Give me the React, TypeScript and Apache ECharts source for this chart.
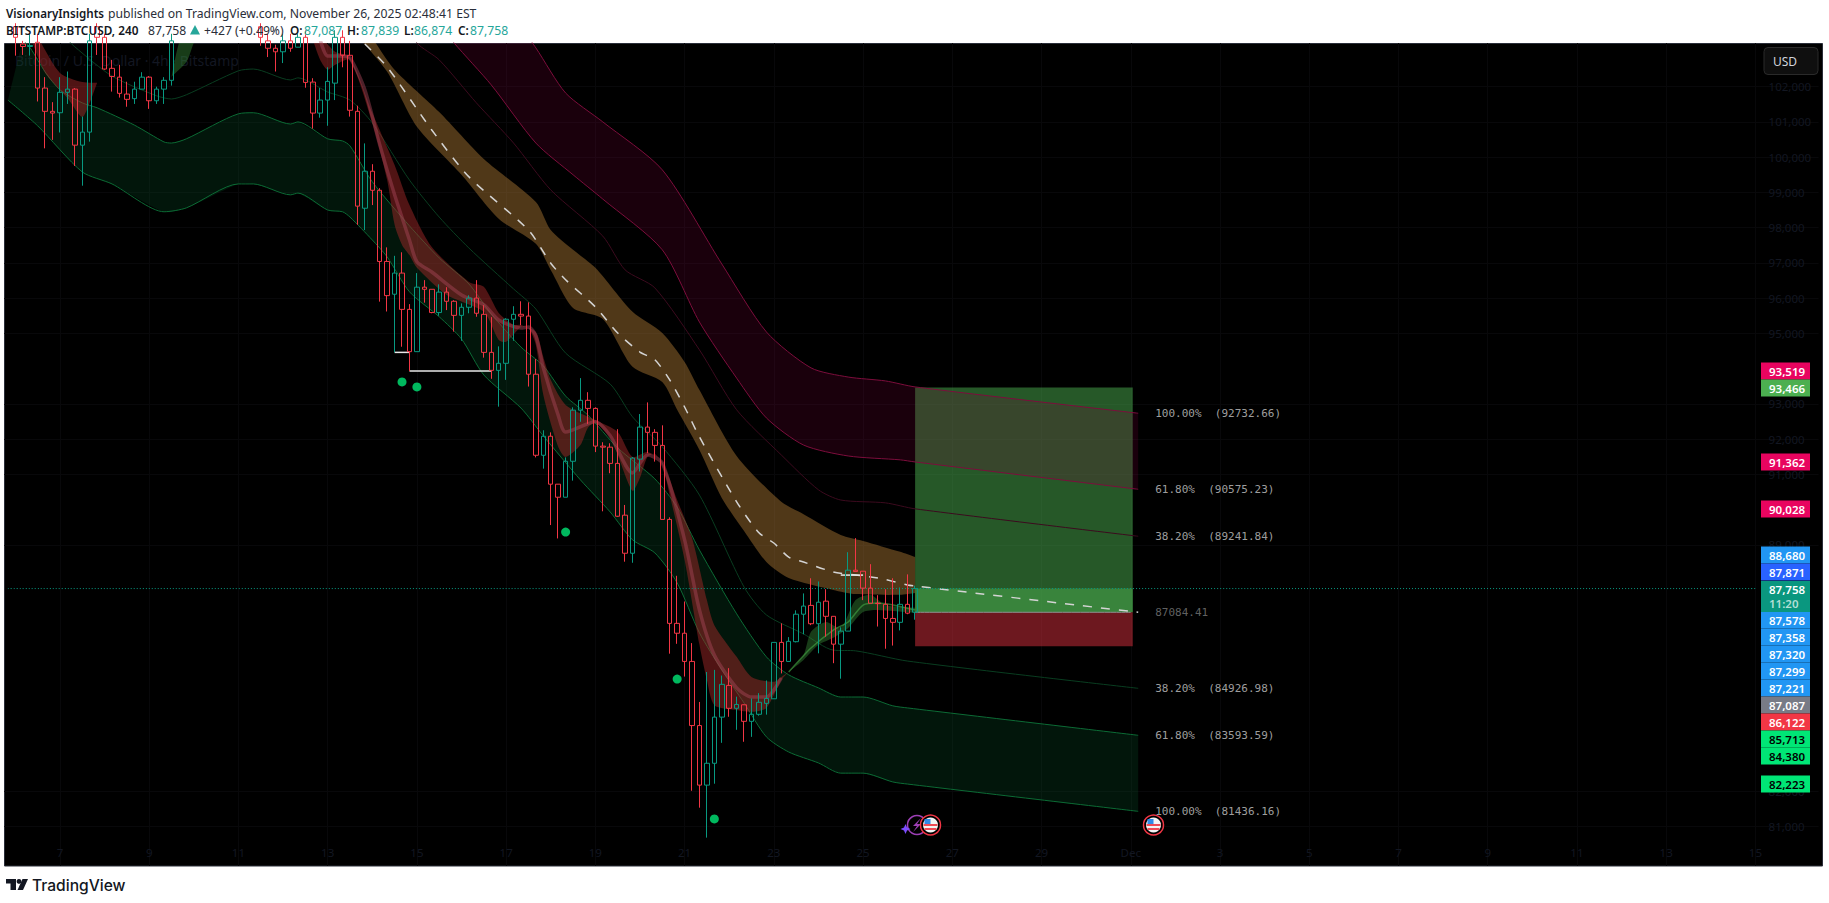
import { useEffect, useRef } from 'react';
import * as echarts from 'echarts';

type Knot = [number, number];
type Candle = [number, number, number, number] | null;

const BAR_COUNT = 244;
const FIRST_TICK = 7; // Nov 7 00:00 sits on bar 7, one tick per 12 bars (2 days)
const dateTicks = ['7', '9', '11', '13', '15', '17', '19', '21', '23', '25', '27', '29', 'Dec', '3', '5', '7', '9', '11', '13', '15'];
const priceTicks = [81000, 82000, 89000, 91000, 92000, 93000, 95000, 96000, 97000, 98000, 99000, 100000, 101000, 102000];
const barNames = Array.from({ length: BAR_COUNT }, (_, i) => String(i));

// [open, close, low, high]; bodies above the pane are rough guesses, they get clipped
const candles: Candle[] = [
  null,
  [103700, 103400, 102880, 103800],
  [103210, 103140, 102900, 103300],
  [103140, 103170, 102880, 103500],
  [103260, 101960, 101580, 103500],
  [101960, 101300, 100250, 102270],
  [101300, 101250, 100490, 101560],
  [101260, 101840, 100700, 102270],
  [101840, 101930, 101510, 102430],
  [101930, 100340, 99750, 101960],
  [100340, 100710, 99190, 101150],
  [100710, 103300, 100440, 103500],
  [103700, 103400, 102900, 103800],
  [103400, 102500, 102480, 103500],
  [102520, 102290, 101860, 102760],
  [102270, 101810, 101690, 102620],
  [101790, 101640, 101430, 102140],
  [101660, 101930, 101510, 102140],
  [101930, 102270, 101930, 102410],
  [102270, 101600, 101370, 102300],
  [101600, 101930, 101510, 102000],
  [101930, 102180, 101510, 102270],
  [102180, 103300, 102030, 103500],
  null, null, null, null, null, null, null, null, null, null, null,
  [103700, 103400, 103160, 103800],
  [103300, 103090, 102840, 103500],
  [103090, 102990, 102430, 103190],
  [102990, 103300, 102670, 103500],
  [103300, 103090, 102990, 103500],
  [103120, 103400, 103120, 103500],
  [103400, 102120, 101970, 103600],
  [102130, 101250, 100810, 102240],
  [101250, 101620, 101120, 101960],
  [101620, 102150, 100890, 102550],
  [102100, 103400, 101620, 103600],
  [103400, 102890, 102550, 103600],
  [102890, 101330, 101150, 103300],
  [101300, 98610, 98080, 101460],
  [98550, 99600, 97930, 100390],
  [99600, 99060, 98640, 99800],
  [99060, 97040, 95900, 99120],
  [97040, 96070, 95620, 97440],
  [96110, 96710, 94460, 97200],
  [96710, 95680, 94620, 97300],
  [95680, 94480, 93930, 95830],
  [94480, 96310, 94480, 96710],
  [96310, 96250, 95870, 96510],
  [96250, 95590, 95570, 96250],
  [95590, 96170, 95500, 96390],
  [96170, 95910, 95660, 96310],
  [95910, 95510, 95050, 95940],
  [95510, 95740, 94790, 95850],
  [95740, 96000, 95570, 96080],
  [96000, 95570, 95470, 96510],
  [95540, 94460, 94310, 95800],
  [94460, 93950, 93710, 95460],
  [93950, 94150, 92920, 94630],
  [94150, 95400, 93680, 95430],
  [95400, 95540, 94790, 95770],
  [95540, 95490, 95230, 95910],
  [95490, 93840, 93490, 95880],
  [93840, 91540, 91480, 94270],
  [91540, 92080, 91160, 92250],
  [92080, 90720, 89560, 92190],
  [90720, 90350, 89180, 90720],
  [90350, 91370, 90350, 91480],
  [91370, 92820, 90820, 92900],
  [92820, 93100, 92490, 93730],
  [93100, 92870, 92430, 93330],
  [92870, 91800, 91630, 92900],
  [91800, 91770, 89950, 91910],
  [91770, 91310, 91030, 91880],
  [91310, 89810, 89790, 92280],
  [89840, 88760, 88520, 90130],
  [88760, 91460, 88490, 91490],
  [91430, 92340, 91080, 92710],
  [92340, 92190, 91600, 93040],
  [92190, 91820, 91360, 92280],
  [91820, 89720, 89720, 92390],
  [89720, 86770, 85910, 89780],
  [86770, 86490, 86190, 88120],
  [86490, 85690, 85260, 87390],
  [85690, 83870, 82020, 86210],
  [83870, 82180, 81540, 84540],
  [82180, 82800, 80690, 85390],
  [82800, 84110, 82220, 85450],
  [84110, 85040, 83380, 85290],
  [85010, 84360, 84120, 85500],
  [84360, 84470, 83750, 84690],
  [84460, 83990, 83410, 84470],
  [83990, 84190, 83550, 84640],
  [84190, 84530, 84150, 84790],
  [84500, 84640, 84180, 85150],
  [84630, 86230, 84630, 86230],
  [86230, 85690, 85350, 86770],
  [85690, 86260, 85690, 86380],
  [86250, 87030, 86230, 87140],
  [87030, 87260, 86460, 87620],
  [87280, 86760, 86720, 88050],
  [86760, 87370, 85920, 87960],
  [87400, 86970, 86390, 87740],
  [86970, 86180, 85640, 86970],
  [86180, 86550, 85200, 86660],
  [86550, 88280, 86550, 88790],
  [88280, 88240, 88240, 89190],
  [88250, 87770, 87430, 88250],
  [87770, 87340, 87340, 88450],
  [87340, 87330, 86680, 87570],
  [87310, 86910, 86050, 87740],
  [86910, 86800, 86140, 88050],
  [86800, 87310, 86570, 87790],
  [87310, 87060, 87030, 88160],
  [87087, 87758, 86874, 87839],
];

const redOuter: Knot[] = [[68, 103980], [71, 103100], [75, 101820], [80, 101000], [88, 99640], [96, 96970], [102, 95040], [108, 94020], [113, 93760], [118, 93650], [122, 93480], [152, 92733]];
const redMiddle: Knot[] = [[57, 104040], [60, 103240], [65, 102050], [71, 100400], [76, 99500], [80, 98810], [88, 97370], [93, 95320], [98, 93730], [102, 92600], [107, 91830], [113, 91520], [120, 91410], [122, 91350], [152, 90575]];
const redInner: Knot[] = [[53, 104040], [55, 103240], [58, 102760], [63, 101540], [68, 100400], [73, 99070], [80, 97760], [83, 96800], [87, 96290], [93, 94530], [98, 92830], [104, 91550], [109, 90560], [112, 90270], [118, 90190], [122, 90020], [152, 89242]];

const goldUpper: Knot[] = [[49, 103380], [52, 102480], [58, 101280], [64, 99950], [71, 98730], [73, 97930], [76, 97370], [79, 96860], [84, 95610], [88, 95010], [91, 94190], [93, 93390], [98, 91520], [104, 90220], [107, 89870], [112, 89280], [115, 89110], [120, 88800], [122, 88650]];
const goldLower: Knot[] = [[47, 103440], [51, 102420], [55, 100860], [61, 99500], [66, 98250], [71, 97540], [73, 96800], [76, 95720], [80, 95410], [84, 94050], [88, 93620], [90, 92830], [93, 91690], [96, 90330], [99, 89390], [102, 88510], [105, 88060], [111, 87720], [114, 87600], [120, 87580], [122, 87630]];
const goldCentre: Knot[] = [[48, 103210], [51, 102560], [57, 100770], [62, 99440], [70, 97930], [73, 96990], [75, 96520], [79, 95750], [82, 95010], [85, 94470], [87, 94250], [89, 93680], [91, 92910], [93, 92060], [98, 90220], [101, 89340], [103, 89050], [105, 88650], [107, 88510], [111, 88230], [114, 88140], [117, 88060], [121, 87860], [122, 87830], [152, 87084]];

const greenInner: Knot[] = [[7, 103550], [9, 103130], [14, 102300], [20, 101740], [22, 101650], [24, 101770], [31, 102450], [33, 102500], [38, 102190], [39, 102250], [43, 101850], [46, 101620], [49, 100970], [54, 99350], [58, 98300], [62, 97420], [68, 96260], [71, 95690], [75, 94440], [81, 93560], [84, 92630], [88, 91780], [93, 90410], [99, 87800], [102, 87010], [107, 86470], [111, 86010], [114, 85990], [121, 85700], [152, 84927]];
const greenMiddle: Knot[] = [[2, 103330], [3, 103100], [5, 102420], [7, 101910], [10, 101540], [12, 101400], [17, 100910], [21, 100430], [22, 100400], [24, 100520], [31, 101230], [33, 101260], [38, 100940], [39, 101000], [43, 100520], [45, 100460], [46, 100320], [49, 99300], [54, 98050], [58, 97140], [62, 96400], [65, 95550], [69, 94610], [72, 94080], [75, 93220], [78, 92680], [82, 91750], [87, 90870], [90, 90070], [93, 88850], [98, 87040], [102, 85820], [105, 85310], [109, 84940], [112, 84680], [115, 84680], [119, 84430], [121, 84370], [152, 83594]];
const greenOuter: Knot[] = [[0, 101620], [4, 100890], [10, 99580], [14, 99240], [21, 98450], [24, 98560], [31, 99240], [33, 99240], [38, 98930], [39, 98980], [43, 98500], [45, 98450], [46, 98300], [49, 97650], [51, 97170], [54, 96180], [58, 95470], [61, 94840], [64, 93820], [69, 92880], [72, 92090], [77, 90840], [81, 89930], [84, 89140], [87, 88770], [90, 87920], [93, 86500], [96, 85450], [99, 84510], [102, 83550], [105, 83120], [109, 82810], [112, 82520], [115, 82520], [119, 82270], [121, 82210], [152, 81436]];

const ribbonAUpper: Knot[] = [[4, 103410], [7, 102390], [10, 102130], [12, 102110]];
const ribbonALower: Knot[] = [[3, 103410], [5, 102390], [8, 101680], [10, 101140], [11, 101540], [12, 102110]];
const wedgeUpper: Knot[] = [[22, 102280], [23, 103240], [24, 103610]];
const wedgeLower: Knot[] = [[22, 102280], [24, 102700], [25, 103240], [26, 103610]];
const ribbonBUpper: Knot[] = [[42, 103440], [44, 102990], [46, 102840], [49, 101260], [52, 99780], [54, 98640], [57, 97450], [62, 96460], [64, 96320], [66, 95580], [68, 95240], [69, 95240], [71, 95040], [72, 94330], [73, 93680], [75, 92970], [79, 92540], [82, 92200], [84, 91490], [86, 91630], [88, 91350], [90, 90270], [92, 89190], [94, 87430], [95, 86720], [98, 85820], [100, 85250], [103, 85110], [104, 85250], [105, 85390]];
const ribbonBLower: Knot[] = [[41, 103330], [42, 102760], [43, 102480], [44, 102620], [46, 102760], [49, 100970], [51, 99350], [52, 98080], [53, 97510], [54, 97220], [55, 96860], [59, 96090], [64, 95610], [66, 94810], [67, 94760], [69, 95180], [70, 95150], [71, 94670], [72, 93250], [74, 91780], [75, 91490], [77, 91830], [78, 92320], [79, 92460], [81, 92030], [82, 91550], [84, 90530], [85, 90900], [86, 91490], [87, 91580], [88, 91270], [89, 90410], [91, 88570], [93, 86160], [94, 85160], [95, 84450], [98, 84310], [100, 84260], [102, 84370], [104, 85160], [105, 85390]];
const ribbonBCore: Knot[] = [[42, 103330], [43, 102870], [45, 102870], [46, 102820], [48, 101910], [50, 100350], [52, 98930], [54, 97650], [55, 97030], [57, 96740], [61, 96090], [64, 95810], [66, 95380], [69, 95150], [70, 95180], [71, 94930], [72, 94020], [74, 92680], [75, 92200], [79, 92490], [81, 92090], [84, 91040], [86, 91550], [88, 91320], [91, 89140], [93, 87150], [95, 85870], [98, 84940], [100, 84680], [102, 84680], [104, 85220]];
const ribbonCUpper: Knot[] = [[105, 85390], [107, 85870], [108, 86530], [110, 86810], [112, 86640], [114, 87430], [116, 87580], [118, 87290], [122, 87210]];
const ribbonCLower: Knot[] = [[105, 85390], [107, 85730], [109, 86160], [111, 86360], [113, 86640], [115, 87090], [117, 87150], [122, 87070]];
const ribbonCCore: Knot[] = [[105, 85390], [108, 86070], [111, 86580], [113, 86810], [115, 87290], [117, 87350], [122, 87150]];

const stepLines: Knot[][] = [
  [[52, 94460], [54, 94460]],
  [[54, 93930], [65, 93930]],
  [[112, 88140], [115, 88140]],
];
const signalDots: Knot[] = [[53, 93620], [55, 93480], [75, 89360], [90, 85190], [95, 81220]];

const fibPrices = [92732.66, 90575.23, 89241.84, 87084.41, 84926.98, 83593.59, 81436.16];
const fibLabels = ['100.00%  (92732.66)', '61.80%  (90575.23)', '38.20%  (89241.84)', '87084.41', '38.20%  (84926.98)', '61.80%  (83593.59)', '100.00%  (81436.16)'];
const fibColors = ['#c8c8c8', '#c8c8c8', '#c8c8c8', '#7c7c7c', '#c8c8c8', '#c8c8c8', '#c8c8c8'];

const positionBars = [122, 151];
const targetPrice = 93466;
const entryPrice = 87084;
const stopPrice = 86122;
const lastPrice = 87758;

const tagLabels = ['93,519', '93,466', '91,362', '90,028', '88,680', '87,871', '87,578', '87,358', '87,320', '87,299', '87,221', '87,087', '86,122', '85,713', '84,380', '82,223'];
const tagColors = ['#e8045f', '#4caf50', '#e8045f', '#e8045f', '#2196f3', '#2962ff', '#2196f3', '#2196f3', '#2196f3', '#2196f3', '#2196f3', '#787b86', '#f23645', '#00e676', '#00e676', '#00e676'];
const tagInk = ['#fff', '#fff', '#fff', '#fff', '#fff', '#fff', '#fff', '#fff', '#fff', '#fff', '#fff', '#fff', '#fff', '#000', '#000', '#000'];
const tagCentres = [371, 388, 462, 509, 555, 572, 620, 637, 654, 671, 688, 705, 722, 739, 756, 784];

const SANS = '"Noto Sans", sans-serif';
const MUTED = '#131722';
const EDGE_SMOOTH = 0.25;

function bandSeries(name: string, upper: Knot[], lower: Knot[], fill: string, z: number) {
  // corners are doubled so the smoothed outline keeps its straight ends
  const outline = [
    upper[0],
    ...upper,
    upper[upper.length - 1],
    lower[lower.length - 1],
    ...[...lower].reverse(),
    lower[0],
  ];
  return {
    type: 'custom',
    name,
    coordinateSystem: 'cartesian2d',
    clip: true,
    silent: true,
    z,
    data: outline,
    encode: { x: 0, y: 1 },
    renderItem(params: any, api: any) {
      if (params.dataIndex !== 0) return null;
      return { type: 'polygon', shape: { points: outline.map((p) => api.coord(p)), smooth: EDGE_SMOOTH }, style: { fill } };
    },
  };
}

function lineSeries(name: string, data: Knot[], color: string, width: number, z: number, dash?: number[] | string) {
  return {
    type: 'line',
    name,
    data,
    z,
    silent: true,
    smooth: EDGE_SMOOTH,
    showSymbol: false,
    symbol: 'none',
    lineStyle: { color, width, type: dash ?? 'solid' },
  };
}

function zoneSeries(name: string, top: number, bottom: number, fill: string, z: number) {
  return {
    type: 'custom',
    name,
    coordinateSystem: 'cartesian2d',
    silent: true,
    z,
    data: [[positionBars[0], top, positionBars[1], bottom]],
    encode: { x: [0, 2], y: [1, 3] },
    renderItem(_: any, api: any) {
      const a = api.coord([api.value(0), api.value(1)]);
      const b = api.coord([api.value(2), api.value(3)]);
      return { type: 'rect', shape: { x: a[0], y: a[1], width: b[0] - a[0] + 2, height: b[1] - a[1] }, style: { fill } };
    },
  };
}

function label(text: string, x: number, y: number, size: number, fill: string, weight: any = 'normal', family = SANS) {
  return { type: 'text', x, y, z: 20, style: { text, fill, fontSize: size, fontWeight: weight, fontFamily: family, verticalAlign: 'middle' } };
}

function usFlag(x: number, y: number) {
  return {
    type: 'group',
    x,
    y,
    z: 12,
    children: [
      { type: 'circle', z: 12, shape: { r: 10 }, style: { fill: '#000', stroke: '#f23645', lineWidth: 1.5 } },
      { type: 'circle', z: 12, shape: { r: 7.5 }, style: { fill: '#f4f4f4' } },
      { type: 'rect', z: 12, shape: { x: -7, y: -1, width: 14, height: 2 }, style: { fill: '#ef4a55' } },
      { type: 'rect', z: 12, shape: { x: -6, y: 3, width: 12, height: 2 }, style: { fill: '#ef4a55' } },
      { type: 'rect', z: 12, shape: { x: -6, y: -6, width: 6, height: 5 }, style: { fill: '#2f8ae8' } },
    ],
  };
}

function buildOption() {
  const graphic: any[] = [
    { type: 'rect', z: -2, shape: { x: 4.5, y: 43.5, width: 1818, height: 822.5 }, style: { fill: '#000', stroke: '#2a2e39', lineWidth: 1 } },
    { type: 'text', x: 15, y: 60, z: -1, style: { text: 'Bitcoin / U.S. Dollar · 4h · Bitstamp', fill: MUTED, fontSize: 14, fontFamily: SANS, verticalAlign: 'middle' } },

    label('VisionaryInsights', 6, 13, 11.6, '#131722', 600),
    label('published on TradingView.com, November 26, 2025 02:48:41 EST', 108, 13, 12.2, '#2a2e39'),
    label('BITSTAMP:BTCUSD, 240', 6, 30, 11.8, '#131722', 600),
    label('87,758', 148, 30, 12.2, '#2a2e39'),
    { type: 'polygon', z: 20, shape: { points: [[195, 25], [200, 34.5], [190, 34.5]] }, style: { fill: '#26a69a' } },
    label('+427 (+0.49%)', 204, 30, 12.2, '#2a2e39'),
    label('O:', 290, 30, 11.8, '#131722', 600),
    label('87,087', 304, 30, 12.2, '#26a69a'),
    label('H:', 347, 30, 11.8, '#131722', 600),
    label('87,839', 361, 30, 12.2, '#26a69a'),
    label('L:', 404, 30, 11.8, '#131722', 600),
    label('86,874', 414, 30, 12.2, '#26a69a'),
    label('C:', 458, 30, 11.8, '#131722', 600),
    label('87,758', 470, 30, 12.2, '#26a69a'),

    { type: 'rect', z: 15, shape: { x: 1764, y: 47.5, width: 54, height: 27, r: 4 }, style: { fill: '#0f0f0f', stroke: '#2a2a2a', lineWidth: 1 } },
    label('USD', 1773, 61, 12, '#d1d4dc'),

    { type: 'rect', z: 20, shape: { x: 6, y: 879, width: 10, height: 4.5 }, style: { fill: '#131722' } },
    { type: 'rect', z: 20, shape: { x: 10.5, y: 883, width: 5.5, height: 7 }, style: { fill: '#131722' } },
    { type: 'circle', z: 20, shape: { cx: 19, cy: 881.4, r: 2.4 }, style: { fill: '#131722' } },
    { type: 'polygon', z: 20, shape: { points: [[22.5, 879], [28, 879], [23, 890], [17.5, 890]] }, style: { fill: '#131722' } },
    label('TradingView', 32, 885, 15.6, '#131722', 500, 'Inter, "Noto Sans", sans-serif'),

    { type: 'circle', z: 11, shape: { cx: 917, cy: 825, r: 9.5 }, style: { fill: '#000', stroke: '#9c3fb5', lineWidth: 1.5 } },
    { type: 'polygon', z: 11, shape: { points: [[921, 818], [913, 826], [917, 826], [913, 832], [921, 824], [917, 824]] }, style: { fill: '#9c3fb5' } },
    { type: 'polygon', z: 11, shape: { points: [[905.5, 824], [907, 827.5], [910.5, 829], [907, 830.5], [905.5, 834], [904, 830.5], [900.5, 829], [904, 827.5]] }, style: { fill: '#7c4dff' } },
    usFlag(930.5, 825),
    usFlag(1153.5, 825),
  ];

  tagLabels.forEach((text, i) => {
    graphic.push({ type: 'rect', z: 16, shape: { x: 1761, y: tagCentres[i] - 8.5, width: 49, height: 17 }, style: { fill: tagColors[i] } });
    graphic.push(label(text, 1769, tagCentres[i], 11.5, tagInk[i], 600));
  });
  graphic.push({ type: 'rect', z: 16, shape: { x: 1761, y: 581, width: 49, height: 31 }, style: { fill: '#0a977f' } });
  graphic.push(label('87,758', 1769, 589, 11.5, '#fff', 600));
  graphic.push(label('11:20', 1769, 603, 11.5, '#b2dfd5', 600));

  return {
    animation: false,
    backgroundColor: '#fff',
    graphic: { elements: graphic },
    grid: { left: 4.2, top: 43, width: BAR_COUNT * 7.436, height: 823 },
    xAxis: {
      type: 'category',
      data: barNames,
      axisLine: { show: false },
      axisTick: { show: false },
      splitLine: {
        show: true,
        alignWithLabel: true,
        interval: (i: number) => i >= FIRST_TICK && (i - FIRST_TICK) % 12 === 0,
        lineStyle: { color: '#08080a', width: 1 },
      },
      axisLabel: {
        inside: true,
        margin: 8,
        color: MUTED,
        fontSize: 11.5,
        fontFamily: SANS,
        interval: (i: number) => i >= FIRST_TICK && (i - FIRST_TICK) % 12 === 0,
        formatter: (_: string, i: number) => dateTicks[(i - FIRST_TICK) / 12] ?? '',
      },
    },
    yAxis: {
      type: 'value',
      position: 'right',
      min: 79885,
      max: 103239,
      axisLine: { show: false },
      axisTick: { show: false, customValues: priceTicks },
      splitLine: { show: true, lineStyle: { color: '#08080a', width: 1 } },
      axisLabel: {
        inside: true,
        align: 'left',
        margin: 50,
        color: MUTED,
        fontSize: 11.5,
        fontFamily: SANS,
        customValues: priceTicks,
        formatter: (v: number) => v.toLocaleString('en-US'),
      },
    },
    series: [
      zoneSeries('profit', targetPrice, entryPrice, 'rgba(76,175,80,0.5)', 1),
      zoneSeries('open profit', lastPrice, entryPrice, 'rgba(76,175,80,0.5)', 1),
      zoneSeries('stop', entryPrice, stopPrice, 'rgba(242,54,69,0.45)', 1),
      lineSeries('entry', [[positionBars[0], entryPrice], [positionBars[1], entryPrice]], '#8f8f8f', 1, 2),

      bandSeries('red zone', redOuter, redMiddle, 'rgba(130,0,60,0.2)', 2),
      bandSeries('green zone', greenMiddle, greenOuter, 'rgba(8,100,50,0.22)', 2),
      bandSeries('gold zone', goldUpper, goldLower, 'rgba(200,140,60,0.4)', 2),
      lineSeries('red 100', redOuter, '#7d0d3c', 1, 3),
      lineSeries('red 61.8', redMiddle, '#7d0d3c', 1, 3),
      lineSeries('red 38.2', redInner, '#3c0a1e', 1, 3),
      lineSeries('green 38.2', greenInner, '#093d20', 1, 3),
      lineSeries('green 61.8', greenMiddle, '#0c6b35', 1, 3),
      lineSeries('green 100', greenOuter, '#0c6b35', 1, 3),

      bandSeries('ribbon a', ribbonAUpper, ribbonALower, 'rgba(160,40,40,0.5)', 4),
      bandSeries('wedge', wedgeUpper, wedgeLower, 'rgba(60,150,60,0.4)', 4),
      bandSeries('ribbon b', ribbonBUpper, ribbonBLower, 'rgba(160,40,40,0.5)', 4),
      bandSeries('ribbon c', ribbonCUpper, ribbonCLower, 'rgba(60,150,60,0.4)', 4),
      lineSeries('ribbon b core', ribbonBCore, 'rgba(170,70,90,0.45)', 3.5, 4),
      lineSeries('ribbon c core', ribbonCCore, 'rgba(70,170,70,0.6)', 1.5, 4),

      lineSeries('gold centre', goldCentre, '#d4d4d4', 1.5, 6, [9, 9]),
      lineSeries('last price', [[0, lastPrice], [235, lastPrice]], '#089981', 1, 6, [1, 2]),
      ...stepLines.map((seg, i) => lineSeries(`step ${i}`, seg, '#e8e8e8', 1.5, 7)),

      {
        type: 'candlestick',
        name: 'BTCUSD',
        z: 8,
        silent: true,
        barWidth: 5,
        data: candles.map((c) => c ?? ['-', '-', '-', '-']),
        itemStyle: {
          color: 'transparent',
          color0: 'transparent',
          borderColor: '#089981',
          borderColor0: '#f23645',
          borderWidth: 1,
        },
      },
      {
        type: 'scatter',
        name: 'signals',
        z: 9,
        silent: true,
        symbolSize: 9,
        data: signalDots,
        itemStyle: { color: '#00e676' },
      },
      {
        type: 'scatter',
        name: 'fib labels',
        z: 9,
        silent: true,
        symbolSize: 0,
        data: fibPrices.map((p, i) => ({ value: [152, p], label: { color: fibColors[i] } })),
        label: {
          show: true,
          position: 'right',
          distance: 17,
          fontFamily: '"DejaVu Sans Mono", monospace',
          fontSize: 11,
          formatter: (p: any) => fibLabels[p.dataIndex],
        },
      },
    ],
  };
}

export default function App() {
  const ref = useRef<HTMLDivElement>(null);

  useEffect(() => {
    if (!ref.current) return;
    document.body.style.margin = '0';
    const chart = echarts.init(ref.current, undefined, { renderer: 'svg' });
    chart.setOption(buildOption() as any);
    return () => chart.dispose();
  }, []);

  return <div ref={ref} style={{ width: 1829, height: 903 }} />;
}
